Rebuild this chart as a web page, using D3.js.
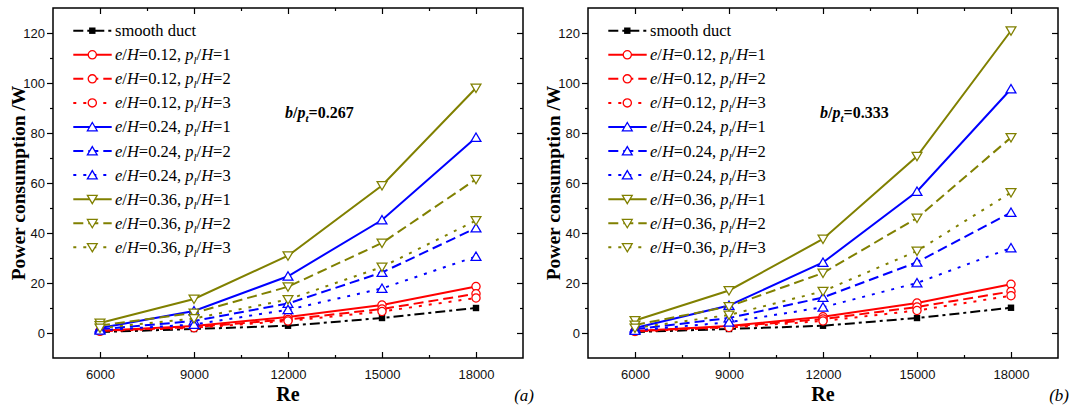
<!DOCTYPE html>
<html>
<head>
<meta charset="utf-8">
<script src="https://cdn.jsdelivr.net/npm/d3@7"></script>
<style>
  html, body { margin: 0; padding: 0; background: #fff; }
  svg { display: block; }
  .tick text { font-family: "Liberation Sans", Arial, sans-serif; font-size: 13px; fill: #111; }
</style>
</head>
<body>
<div id="chart"></div>
<script>
// Re values on the x axis
var re = [6000, 9000, 12000, 15000, 18000];
var reMinor = [7500, 10500, 13500, 16500];
var powerTicks = [0, 20, 40, 60, 80, 100, 120];
var powerMinor = [10, 30, 50, 70, 90, 110];

// (a) b/pt = 0.267
var smoothA = [0.4, 1.6, 2.9, 6.0, 10.0];
var a12p1 = [0.9, 2.8, 6.4, 11.2, 18.6];
var a12p2 = [0.8, 2.4, 5.4, 9.6, 15.7];
var a12p3 = [0.7, 2.1, 4.8, 8.6, 14.0];
var a24p1 = [2.0, 8.8, 22.7, 45.2, 78.2];
var a24p2 = [1.5, 4.8, 11.8, 24.2, 42.0];
var a24p3 = [1.1, 3.4, 9.3, 17.8, 30.6];
var a36p1 = [4.0, 13.6, 30.9, 59.0, 98.0];
var a36p2 = [3.0, 8.0, 18.5, 36.0, 61.5];
var a36p3 = [2.0, 5.8, 13.4, 26.4, 45.0];

// (b) b/pt = 0.333
var smoothB = [0.4, 1.6, 2.9, 6.0, 10.1];
var b12p1 = [0.8, 2.8, 6.5, 12.0, 19.5];
var b12p2 = [0.7, 2.5, 5.6, 10.4, 16.6];
var b12p3 = [0.6, 2.2, 4.8, 9.0, 14.9];
var b24p1 = [2.0, 11.0, 28.2, 56.6, 97.6];
var b24p2 = [1.5, 6.0, 14.2, 28.3, 48.2];
var b24p3 = [1.0, 4.3, 10.3, 20.0, 34.0];
var b36p1 = [5.0, 17.0, 37.6, 70.7, 120.9];
var b36p2 = [3.2, 10.6, 24.0, 46.0, 78.2];
var b36p3 = [2.0, 7.2, 16.7, 32.8, 56.2];

var eValues = ["0.12", "0.24", "0.36"];
var pValues = ["1", "2", "3"];

var RED = "#ff0000", BLUE = "#0000ff", OLIVE = "#808000";
var SERIF = '"Liberation Serif", "Times New Roman", serif';

var dashes = {
  solid: null,
  dash: "10,5",
  dot: "3,7",
  dashdot: "10,4,3,4"
};

function styles(vals) {
  return [
    { color: "#000", dash: dashes.dashdot, marker: "square", v: vals[0] },
    { e: 0, p: 0, color: RED, dash: dashes.solid, marker: "circle", v: vals[1] },
    { e: 0, p: 1, color: RED, dash: dashes.dash, marker: "circle", v: vals[2] },
    { e: 0, p: 2, color: RED, dash: dashes.dot, marker: "circle", v: vals[3] },
    { e: 1, p: 0, color: BLUE, dash: dashes.solid, marker: "up", v: vals[4] },
    { e: 1, p: 1, color: BLUE, dash: dashes.dash, marker: "up", v: vals[5] },
    { e: 1, p: 2, color: BLUE, dash: dashes.dot, marker: "up", v: vals[6] },
    { e: 2, p: 0, color: OLIVE, dash: dashes.solid, marker: "down", v: vals[7] },
    { e: 2, p: 1, color: OLIVE, dash: dashes.dash, marker: "down", v: vals[8] },
    { e: 2, p: 2, color: OLIVE, dash: dashes.dot, marker: "down", v: vals[9] }
  ];
}

var W = 1069, H = 407;
var svg = d3.select("#chart").append("svg").attr("width", W).attr("height", H);

function drawMarker(g, type, color) {
  if (type === "square") {
    g.append("rect").attr("x", -3.2).attr("y", -3.2).attr("width", 6.4).attr("height", 6.4)
      .attr("fill", "#000");
  } else if (type === "circle") {
    g.append("circle").attr("r", 4.1).attr("fill", "#fff")
      .attr("stroke", color).attr("stroke-width", 1.3);
  } else {
    var d = type === "up" ? "M0,-4.5L4.9,3.8L-4.9,3.8Z" : "M0,4.5L4.9,-3.8L-4.9,-3.8Z";
    g.append("path").attr("d", d).attr("fill", "#fff")
      .attr("stroke", color).attr("stroke-width", 1.3);
  }
}

function legendText(t, s) {
  if (s.e === undefined) {
    t.append("tspan").text("smooth duct");
    return;
  }
  t.append("tspan").attr("font-style", "italic").text("e");
  t.append("tspan").text("/");
  t.append("tspan").attr("font-style", "italic").text("H");
  t.append("tspan").text("=" + eValues[s.e] + ", ");
  t.append("tspan").attr("font-style", "italic").text("p");
  t.append("tspan").attr("font-style", "italic").attr("font-size", "11px").attr("dy", 4).text("l");
  t.append("tspan").attr("dy", -4).text("/");
  t.append("tspan").attr("font-style", "italic").text("H");
  t.append("tspan").text("=" + pValues[s.p]);
}

function drawPanel(dx, series, ratio, tag) {
  var x0 = 53 + dx, x1 = 523 + dx, y0 = 8, y1 = 358;
  var x = d3.scaleLinear().domain([4500, 19500]).range([x0, x1]);
  var y = d3.scaleLinear().domain([-10, 130]).range([y1, y0]);
  var g = svg.append("g");

  // axes
  g.append("g").attr("transform", "translate(0," + y1 + ")")
    .call(d3.axisBottom(x).tickValues(re).tickSize(-6).tickPadding(12).tickFormat(d3.format("d")));
  g.append("g").attr("transform", "translate(0," + y1 + ")")
    .call(d3.axisBottom(x).tickValues(reMinor).tickSize(-3).tickFormat(""));
  g.append("g").attr("transform", "translate(0," + y0 + ")")
    .call(d3.axisTop(x).tickValues(re).tickSize(-6).tickFormat(""));
  g.append("g").attr("transform", "translate(0," + y0 + ")")
    .call(d3.axisTop(x).tickValues(reMinor).tickSize(-3).tickFormat(""));
  g.append("g").attr("transform", "translate(" + x0 + ",0)")
    .call(d3.axisLeft(y).tickValues(powerTicks).tickSize(6).tickPadding(2));
  g.append("g").attr("transform", "translate(" + x0 + ",0)")
    .call(d3.axisLeft(y).tickValues(powerMinor).tickSize(3).tickFormat(""));
  g.append("g").attr("transform", "translate(" + x1 + ",0)")
    .call(d3.axisRight(y).tickValues(powerTicks).tickSize(-6).tickFormat(""));
  g.append("g").attr("transform", "translate(" + x1 + ",0)")
    .call(d3.axisRight(y).tickValues(powerMinor).tickSize(-3).tickFormat(""));
  g.selectAll(".domain").remove();
  g.selectAll(".tick line").attr("stroke", "#000").attr("stroke-width", 1.2);

  g.append("rect").attr("x", x0).attr("y", y0).attr("width", x1 - x0).attr("height", y1 - y0)
    .attr("fill", "none").attr("stroke", "#000").attr("stroke-width", 1.5);

  // axis titles
  g.append("text")
    .attr("transform", "translate(" + (19 + dx) + "," + ((y0 + y1) / 2) + ") rotate(-90)")
    .attr("text-anchor", "middle").attr("dy", "0.3em")
    .attr("font-family", SERIF).attr("font-weight", "bold").attr("font-size", "19.5px")
    .text("Power consumption /W");
  g.append("text").attr("x", (x0 + x1) / 2).attr("y", 401).attr("text-anchor", "middle")
    .attr("font-family", SERIF).attr("font-weight", "bold").attr("font-size", "20px").text("Re");
  g.append("text").attr("x", x1 + 11).attr("y", 401).attr("text-anchor", "end")
    .attr("font-family", SERIF).attr("font-style", "italic").attr("font-size", "17px").text(tag);

  // series
  var line = d3.line().x(function (d, i) { return x(re[i]); }).y(function (d) { return y(d); });
  series.forEach(function (s) {
    g.append("path").datum(s.v).attr("d", line).attr("fill", "none")
      .attr("stroke", s.color).attr("stroke-width", 2)
      .attr("stroke-dasharray", s.dash);
  });
  series.forEach(function (s) {
    s.v.forEach(function (d, i) {
      var m = g.append("g").attr("transform", "translate(" + x(re[i]) + "," + y(d) + ")");
      drawMarker(m, s.marker, s.color);
    });
  });

  // legend
  series.forEach(function (s, i) {
    var ly = 30.7 + i * 24.07;
    var lg = g.append("g");
    lg.append("line").attr("x1", 73.3 + dx).attr("x2", 111.7 + dx).attr("y1", ly).attr("y2", ly)
      .attr("stroke", s.color).attr("stroke-width", 2).attr("stroke-dasharray", s.dash);
    var m = lg.append("g").attr("transform", "translate(" + (92.3 + dx) + "," + ly + ")");
    drawMarker(m, s.marker, s.color);
    var t = lg.append("text").attr("x", 115 + dx).attr("y", ly + 5.5)
      .attr("font-family", SERIF).attr("font-size", "16.5px");
    legendText(t, s);
  });

  // b/pt annotation
  var a = g.append("text").attr("x", 285 + dx).attr("y", 118)
    .attr("font-family", SERIF).attr("font-weight", "bold").attr("font-size", "16px");
  a.append("tspan").attr("font-style", "italic").text("b");
  a.append("tspan").text("/");
  a.append("tspan").attr("font-style", "italic").text("p");
  a.append("tspan").attr("font-style", "italic").attr("font-size", "11px").attr("dy", 4).text("t");
  a.append("tspan").attr("dy", -4).text("=" + ratio);
}

drawPanel(0, styles([smoothA, a12p1, a12p2, a12p3, a24p1, a24p2, a24p3, a36p1, a36p2, a36p3]), "0.267", "(a)");
drawPanel(535, styles([smoothB, b12p1, b12p2, b12p3, b24p1, b24p2, b24p3, b36p1, b36p2, b36p3]), "0.333", "(b)");
</script>
</body>
</html>
